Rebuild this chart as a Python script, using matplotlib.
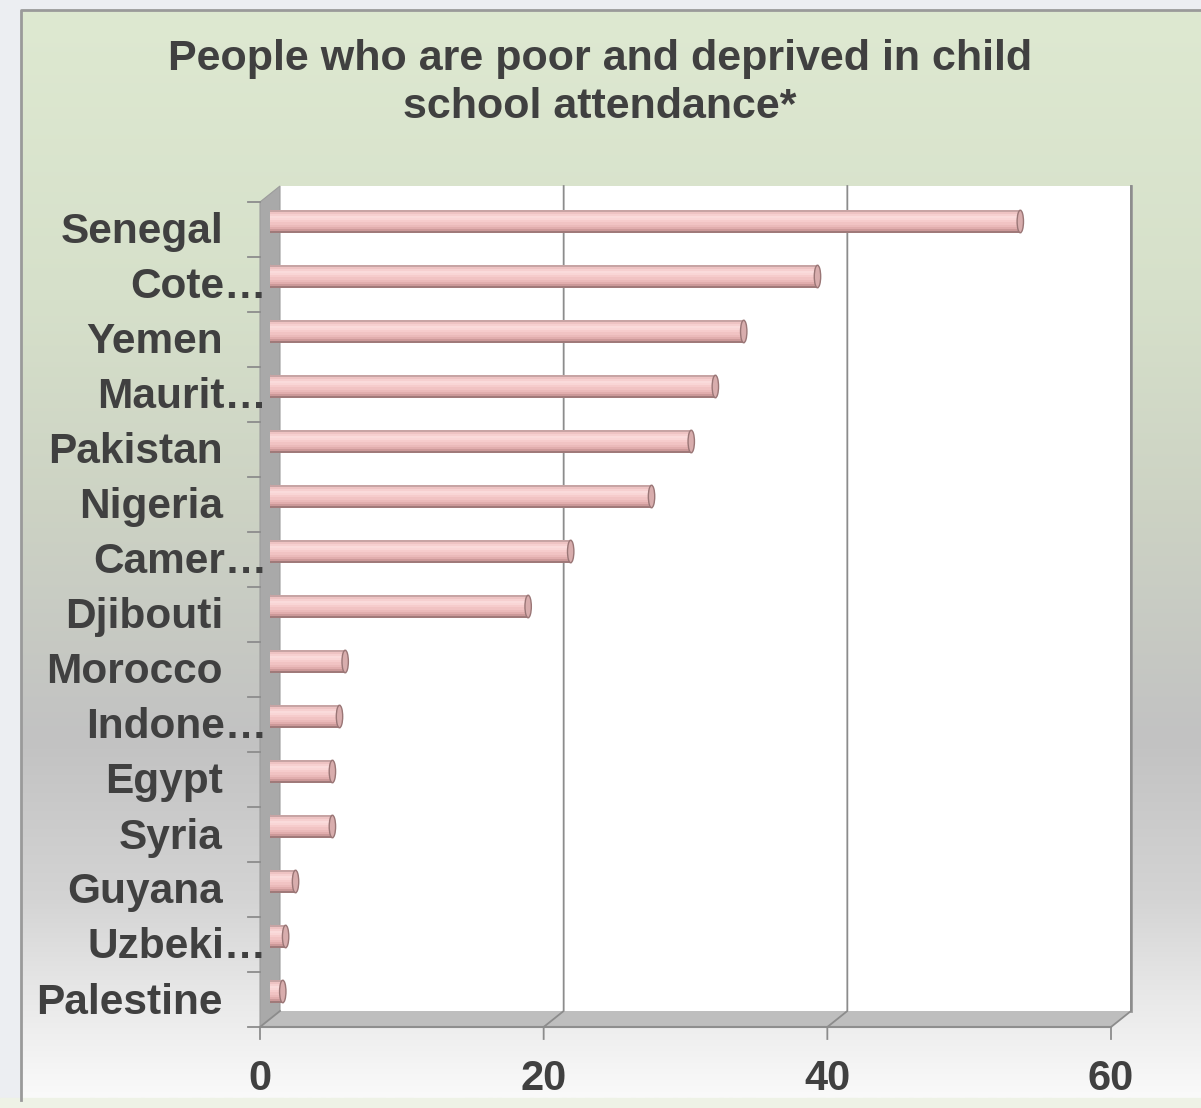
import numpy as np
import matplotlib.pyplot as plt
from matplotlib import transforms
from matplotlib.patches import Polygon, Ellipse, Rectangle

plt.rcParams['font.family'] = ['Liberation Sans', 'DejaVu Sans']

# country labels as shown on the axis (long names are cut with an ellipsis)
countries = ['Senegal', 'Cote\u2026', 'Yemen', 'Maurit\u2026', 'Pakistan', 'Nigeria',
             'Camer\u2026', 'Djibouti', 'Morocco', 'Indone\u2026', 'Egypt', 'Syria',
             'Guyana', 'Uzbeki\u2026', 'Palestine']
poor_deprived = [52.9, 38.6, 33.4, 31.4, 29.7, 26.9, 21.2, 18.2,
                 5.3, 4.9, 4.4, 4.4, 1.8, 1.1, 0.9]
x_ticks = [0, 20, 40, 60]
title_lines = ['People who are poor and deprived in child', 'school attendance*']

W, H = 1201, 1108
TXT = '#404040'
fig = plt.figure(figsize=(W / 100, H / 100), dpi=100)
fig.patch.set_facecolor('#eceef2')

# background: chart box with green -> grey -> white vertical gradient
bg = fig.add_axes([0, 0, 1, 1])
bg.set_xlim(0, W)
bg.set_ylim(H, 0)
bg.axis('off')
stops_y = [10, 300, 500, 740, 900, 1000, 1098]
stops_c = np.array([[222, 233, 209], [214, 224, 202], [205, 211, 196],
                    [194, 194, 194], [212, 212, 212], [233, 233, 233],
                    [250, 250, 250]]) / 255
yy = np.arange(10, 1099)
grad = np.stack([np.interp(yy, stops_y, stops_c[:, k]) for k in range(3)], axis=-1)
bg.imshow(grad[:, None, :], extent=[21, W + 5, 1098, 10], aspect='auto', zorder=0)
bg.add_patch(Rectangle((0, 1098), W, 12, color='#eef2e6', zorder=1))
bg.plot([21, 21, W + 5], [1100, 10, 10], color='#9a9a9a', lw=2, zorder=2)

for i, line in enumerate(title_lines):
    bg.text(600, [70, 118][i], line, ha='center', va='baseline', fontsize=31,
            fontweight='bold', color=TXT)

# plot axes sits at mid depth; back wall and front edge are shifted copies
ax = fig.add_axes([270 / W, 1 - 1019 / H, 851 / W, 825 / H])
ax.set_xlim(0, 60)
ax.set_ylim(-0.5, len(countries) - 0.5)
ax.axis('off')

back = ax.transData + transforms.ScaledTranslation(0.10, 0.08, fig.dpi_scale_trans)
front = ax.transData + transforms.ScaledTranslation(-0.10, -0.08, fig.dpi_scale_trans)
ident = transforms.IdentityTransform()
y0, y1 = -0.5, len(countries) - 0.5
xmax = x_ticks[-1]


def pts(tr, xy):
    return [tr.transform(p) for p in xy]


# back wall
ax.add_patch(Polygon(pts(back, [(0, y0), (xmax, y0), (xmax, y1), (0, y1)]),
                     closed=True, transform=ident, facecolor='white',
                     edgecolor='none', zorder=0.5, clip_on=False))
ax.plot(*zip(*pts(back, [(xmax, y0), (xmax, y1)])), transform=ident,
        color='#9a9a9a', lw=2, zorder=0.6, clip_on=False)
# left wall
ax.add_patch(Polygon(pts(back, [(0, y1), (0, y0)]) + pts(front, [(0, y0), (0, y1)]),
                     closed=True, transform=ident, facecolor='#a9a9a9',
                     edgecolor='#9c9c9c', lw=0.8, zorder=0.7, clip_on=False))
# floor
ax.add_patch(Polygon(pts(back, [(0, y0), (xmax, y0)]) + pts(front, [(xmax, y0), (0, y0)]),
                     closed=True, transform=ident, facecolor='#bebebe',
                     edgecolor='none', zorder=0.7, clip_on=False))
ax.plot(*zip(*pts(front, [(0, y0), (xmax, y0)])), transform=ident,
        color='#8e8e8e', lw=1.5, zorder=0.8, clip_on=False)

# gridlines on the back wall, folding down across the floor to the ticks
for v in x_ticks:
    b_top, b_bot = pts(back, [(v, y1), (v, y0)])
    f_bot = front.transform((v, y0))
    xs = [f_bot[0], f_bot[0], b_bot[0]]
    ys = [f_bot[1] - 12, f_bot[1], b_bot[1]]
    if v > 0:
        xs.append(b_top[0])
        ys.append(b_top[1])
    ax.plot(xs, ys, transform=ident, color='#8c8c8c', lw=1.3, zorder=0.9,
            clip_on=False)
    ax.text(f_bot[0], f_bot[1] - 63, str(v), transform=ident, ha='center',
            va='baseline', fontsize=30, fontweight='bold', color=TXT)

# category ticks on the front edge of the left wall
for k in range(len(countries) + 1):
    p = front.transform((0, y0 + k))
    ax.plot([p[0] - 12, p[0]], [p[1], p[1]], transform=ident, color='#8c8c8c',
            lw=1.3, zorder=0.9, clip_on=False)

# category labels, top to bottom
ypos = np.arange(len(countries))[::-1]
for name, y in zip(countries, ypos):
    p = front.transform((0, y))
    xr = p[0] - 37 if not name.endswith('\u2026') else p[0] + 7
    ax.text(xr, p[1] - 14, name, transform=ident, ha='right', va='baseline',
            fontsize=30.5, fontweight='bold', color=TXT)

# cylinder bars: stacked stripes for the shading, ellipses for the ends
shades = ['#c7a4a4', '#eec3c3', '#f6d0d0', '#fadbdb', '#f9d6d6', '#f6cccc',
          '#f1c3c3', '#ebbaba', '#e1adad', '#cc9999', '#a07a7a']
bar_h = 0.41
n = len(shades)
sh = bar_h / n
for k, c in enumerate(shades):
    off = bar_h / 2 - sh * (k + 0.5)
    ax.barh(ypos + off, poor_deprived, height=sh * 1.05, color=c,
            linewidth=0, zorder=3)
for v, y in zip(poor_deprived, ypos):
    ax.add_patch(Ellipse((0, y), 0.55, bar_h, facecolor='#f2c6c6',
                         edgecolor='#c9a0a0', lw=0.8, zorder=2.9))
    ax.add_patch(Ellipse((v, y), 0.45, bar_h, facecolor='#d8adad',
                         edgecolor='#9a7676', lw=1.0, zorder=3.5))

fig.savefig('out.png', dpi=100, facecolor=fig.get_facecolor())
